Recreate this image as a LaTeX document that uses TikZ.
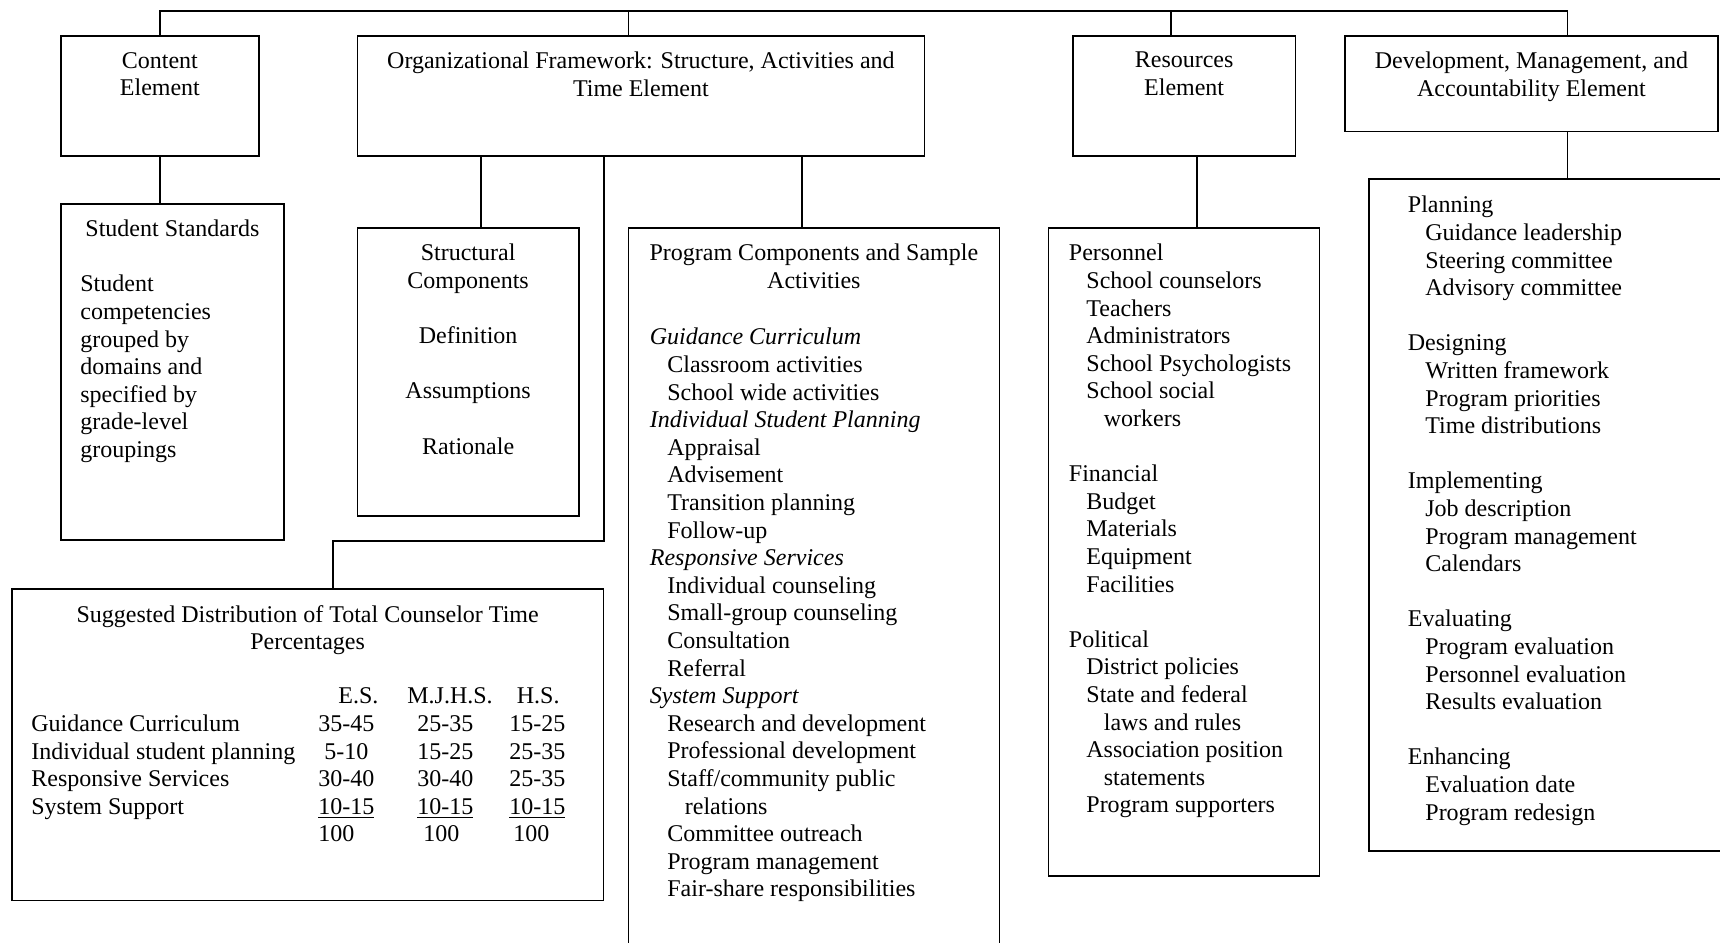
\documentclass[tikz,border=0pt]{standalone}
\usepackage{fontspec}
\setmainfont{Liberation Serif}
\usetikzlibrary{positioning}

\newcommand{\ind}{\hspace*{8.75pt}}

\begin{document}
\begin{tikzpicture}[
        x=0.5pt, y=-0.5pt,
        font=\fontsize{12}{13.8}\selectfont,
        element/.style={rectangle, draw=black, line width=0.9pt, inner sep=0pt, anchor=north west},
        heading/.style={align=center, inner sep=0pt},
        listing/.style={align=left, inner sep=0pt},
        conn/.style={line width=0.9pt}
    ]
        \useasboundingbox (0,0) rectangle (1720,943);
        \clip (0,0) rectangle (1720,943);
        \coordinate (bus) at (0,11);

        % top row
        \node[element, minimum width=99pt, minimum height=60pt] (content) at (60,35) {};
        \node[element, minimum width=283.5pt, minimum height=60pt] (org) at (356.5,35) {};
        \node[element, minimum width=111.25pt, minimum height=60pt] (resources) at (1072,35) {};
        \node[element, minimum width=186.5pt, minimum height=47.75pt] (dev) at (1344,35) {};

        \node[heading, below=8.4pt of content.north] (contenttxt) {Content\\Element};
        \node[heading, below=8.4pt of org.north] (orgtxt) {Organizational Framework: Structure, Activities and\\Time Element};
        \node[heading, below=8.4pt of resources.north] (resourcestxt) {Resources\\Element};
        \node[heading, below=8.4pt of dev.north] (devtxt) {Development, Management, and\\Accountability Element};

        % second row
        \node[element, minimum width=111.5pt, minimum height=168pt] (standards) at (60,203) {};
        \node[element, minimum width=110.75pt, minimum height=144pt] (structural) at (356.5,227) {};
        \node[element, minimum width=295.75pt, minimum height=155.75pt] (suggested) at (11,588) {};
        \node[element, minimum width=185.5pt, minimum height=370pt] (program) at (627.5,227) {};
        \node[element, minimum width=135.5pt, minimum height=324pt] (personnel) at (1047.5,227) {};
        \node[element, minimum width=200pt, minimum height=336pt] (planning) at (1368,178) {};

        \node[heading, below=8.4pt of standards.north] (standardstitle) {Student Standards};
        \node[listing, below right=35.9pt and 10pt of standards.north west] (standardstxt)
            {Student\\competencies\\grouped by\\domains and\\specified by\\grade-level\\groupings};

        \node[heading, below=8.4pt of structural.north] (structuraltxt)
            {Structural\\Components\\[13.8pt]Definition\\[13.8pt]Assumptions\\[13.8pt]Rationale};

        \node[heading, below=8.4pt of suggested.north] (suggestedtitle)
            {Suggested Distribution of Total Counselor Time\\Percentages};
        \node[listing, below right=48.1pt and 10pt of suggested.north west] (timetable) {%
            \begin{tabular}{@{}p{143.5pt}@{}p{49.5pt}@{}p{46pt}@{}l@{}}
                & \hspace*{10pt}E.S. & \hspace*{-5pt}M.J.H.S. & \hspace*{3.75pt}H.S.\\
                Guidance Curriculum & 35-45 & 25-35 & 15-25\\
                Individual student planning & \hspace*{3pt}5-10 & 15-25 & 25-35\\
                Responsive Services & 30-40 & 30-40 & 25-35\\
                System Support & \underline{10-15} & \underline{10-15} & \underline{10-15}\\
                & 100 & \hspace*{3pt}100 & \hspace*{2pt}100
            \end{tabular}};

        \node[heading, below=8.4pt of program.north] (programtitle)
            {Program Components and Sample\\Activities};
        \node[listing, below right=50.4pt and 11pt of program.north west] (programtxt)
            {\textit{Guidance Curriculum}\\
             \ind Classroom activities\\
             \ind School wide activities\\
             \textit{Individual Student Planning}\\
             \ind Appraisal\\
             \ind Advisement\\
             \ind Transition planning\\
             \ind Follow-up\\
             \textit{Responsive Services}\\
             \ind Individual counseling\\
             \ind Small-group counseling\\
             \ind Consultation\\
             \ind Referral\\
             \textit{System Support}\\
             \ind Research and development\\
             \ind Professional development\\
             \ind Staff/community public\\
             \ind\ind relations\\
             \ind Committee outreach\\
             \ind Program management\\
             \ind Fair-share responsibilities};

        \node[listing, below right=8.4pt and 10.5pt of personnel.north west] (personneltxt)
            {Personnel\\
             \ind School counselors\\
             \ind Teachers\\
             \ind Administrators\\
             \ind School Psychologists\\
             \ind School social\\
             \ind\ind workers\\[13.8pt]
             Financial\\
             \ind Budget\\
             \ind Materials\\
             \ind Equipment\\
             \ind Facilities\\[13.8pt]
             Political\\
             \ind District policies\\
             \ind State and federal\\
             \ind\ind laws and rules\\
             \ind Association position\\
             \ind\ind statements\\
             \ind Program supporters};

        \node[listing, below right=8.9pt and 19.75pt of planning.north west] (planningtxt)
            {Planning\\
             \ind Guidance leadership\\
             \ind Steering committee\\
             \ind Advisory committee\\[13.8pt]
             Designing\\
             \ind Written framework\\
             \ind Program priorities\\
             \ind Time distributions\\[13.8pt]
             Implementing\\
             \ind Job description\\
             \ind Program management\\
             \ind Calendars\\[13.8pt]
             Evaluating\\
             \ind Program evaluation\\
             \ind Personnel evaluation\\
             \ind Results evaluation\\[13.8pt]
             Enhancing\\
             \ind Evaluation date\\
             \ind Program redesign};

        % connectors
        \draw[conn] (content.north) |- ([xshift=18pt]dev.north |- bus) -- ([xshift=18pt]dev.north);
        \draw[conn] ([xshift=-6.25pt]org.north) -- ([xshift=-6.25pt]org.north |- bus);
        \draw[conn] ([xshift=-6.4pt]resources.north) -- ([xshift=-6.4pt]resources.north |- bus);

        \draw[conn] (content.south) -- (content.south |- standards.north);
        \draw[conn] ([xshift=6.4pt]structural.north) -- ([xshift=6.4pt]structural.north |- org.south);
        \draw[conn] ([xshift=-6pt]program.north) -- ([xshift=-6pt]program.north |- org.south);
        \draw[conn] (org.south -| suggested.east) |- ([xshift=12.6pt]suggested.north |- standards.south) -- ([xshift=12.6pt]suggested.north);
        \draw[conn] ([xshift=6.4pt]resources.south) -- ([xshift=6.4pt]resources.south |- personnel.north);
        \draw[conn] ([xshift=18pt]dev.south) -- ([xshift=18pt]dev.south |- planning.north);
    \end{tikzpicture}
\end{document}
